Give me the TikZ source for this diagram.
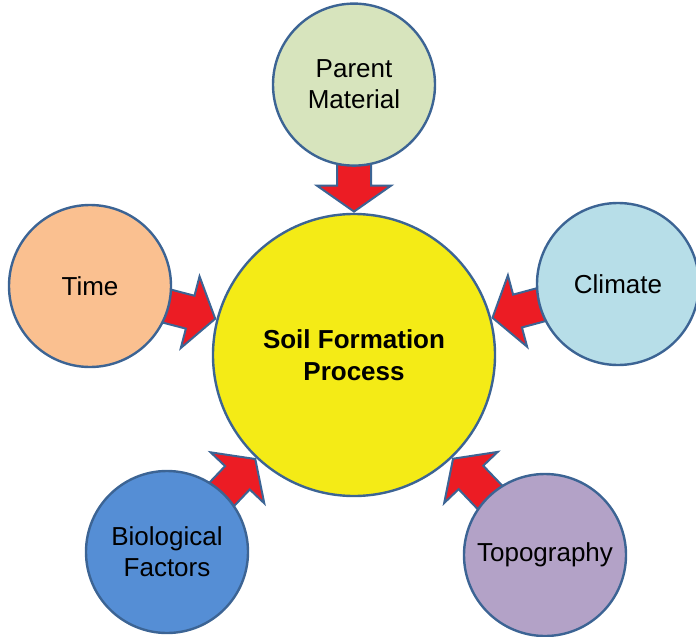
\documentclass[tikz,border=0pt]{standalone}
\usepackage{fontspec}
\setmainfont{Liberation Sans}
\usepackage{tikz}
\usetikzlibrary{positioning,shapes.arrows}
\definecolor{edgeblue}{HTML}{3C6494}
\definecolor{arrowred}{HTML}{EC1C24}
\definecolor{soilyellow}{HTML}{F4EB16}
\definecolor{parentgreen}{HTML}{D7E4BD}
\definecolor{timepeach}{HTML}{FAC090}
\definecolor{climateblue}{HTML}{B7DEE8}
\definecolor{bioblue}{HTML}{558ED5}
\definecolor{topopurple}{HTML}{B3A2C7}
\pgfdeclarelayer{base}
\pgfdeclarelayer{arrows}
\pgfsetlayers{base,arrows,main}

\begin{document}
\begin{tikzpicture}[x=1pt,y=1pt,
		base node/.style={circle,draw=edgeblue,line width=2.4pt,inner sep=0pt,align=center,
			font=\fontsize{26}{31}\selectfont},
		factor node/.style={base node,minimum size=162pt},
		core node/.style={base node,minimum size=282pt,fill=soilyellow,
			font=\fontsize{26}{32}\selectfont\bfseries},
		flow arrow/.style={single arrow,draw=edgeblue,line width=2pt,fill=arrowred,
			minimum height=70pt,inner xsep=0pt,inner ysep=16pt,single arrow head extend=20pt,
			single arrow tip angle=110,sloped,allow upside down,pos=1,anchor=tip}]

		\useasboundingbox (0,0) rectangle (696,-637);

		\begin{pgfonlayer}{base}
		\node[core node] (soil) at (354,-355) {Soil Formation\\Process};
		\end{pgfonlayer}

		\node[factor node,fill=parentgreen] (parent) [above=46pt of soil] {Parent\\Material};
		\node[factor node,fill=timepeach] (time) at ([shift={(-264,69)}]soil) {Time};
		\node[factor node,fill=climateblue] (climate) at ([shift={(264,71)}]soil) {Climate};
		\node[factor node,fill=bioblue] (bio) at ([shift={(-187,-197)}]soil) {Biological\\Factors};
		\node[factor node,fill=topopurple] (topo) at ([shift={(191,-200)}]soil) {Topography};

		\begin{pgfonlayer}{arrows}
		\path (parent) -- (soil) node[flow arrow] {};
		\path (time) -- (soil) node[flow arrow] {};
		\path (climate) -- (soil) node[flow arrow] {};
		\path (bio) -- (soil) node[flow arrow] {};
		\path (topo) -- (soil) node[flow arrow] {};
		\end{pgfonlayer}

		\end{tikzpicture}
\end{document}
